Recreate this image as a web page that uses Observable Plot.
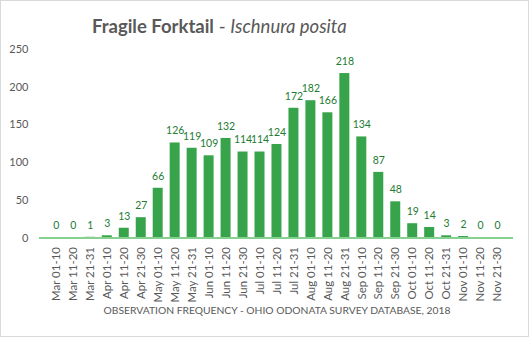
<!DOCTYPE html>
<html>
<head>
<meta charset="utf-8">
<script src="https://cdn.jsdelivr.net/npm/d3@7"></script>
<script src="https://cdn.jsdelivr.net/npm/@observablehq/plot@0.6"></script>
<style>
  html, body { margin: 0; padding: 0; background: #fff; }
  #wrap { position: relative; width: 527px; height: 335px; border: 1px solid #d9d9d9; overflow: hidden; font-family: Lato, "Open Sans", sans-serif; }
  #title { position: absolute; left: 91px; top: 14px; font-size: 18.5px; color: #595959; white-space: nowrap; }
  #title b { font-weight: 700; }
  #title i { font-style: italic; font-weight: 400; }
  #caption { position: absolute; left: 0; width: 552px; top: 303px; text-align: center; font-size: 10.3px; color: #595959; white-space: nowrap; }
  #chart { position: absolute; left: -1px; top: -1px; }
</style>
</head>
<body>
<div id="wrap">
  <div id="chart"></div>
  <div id="title"><b>Fragile Forktail</b> - <i>Ischnura posita</i></div>
  <div id="caption">OBSERVATION FREQUENCY - OHIO ODONATA SURVEY DATABASE, 2018</div>
</div>
<script>
const periods = ["Mar 01-10","Mar 11-20","Mar 21-31","Apr 01-10","Apr 11-20","Apr 21-30","May 01-10","May 11-20","May 21-31","Jun 01-10","Jun 11-20","Jun 21-30","Jul 01-10","Jul 11-20","Jul 21-31","Aug 01-10","Aug 11-20","Aug 21-31","Sep 01-10","Sep 11-20","Sep 21-30","Oct 01-10","Oct 11-20","Oct 21-31","Nov 01-10","Nov 11-20","Nov 21-30"];
const counts = [0,0,1,3,13,27,66,126,119,109,132,114,114,124,172,182,166,218,134,87,48,19,14,3,2,0,0];
const yTicks = [0,50,100,150,200,250];

const data = periods.map((p, i) => ({period: p, count: counts[i]}));

const chart = Plot.plot({
  width: 529,
  height: 337,
  marginLeft: 39,
  marginRight: 15,
  marginTop: 49,
  marginBottom: 99,
  style: {fontFamily: "Lato, 'Open Sans', sans-serif", fontSize: "11px", color: "#595959", background: "transparent"},
  x: {domain: periods, padding: 0.43, label: null},
  y: {domain: [0, 250], label: null},
  marks: [
    Plot.axisY({ticks: yTicks, tickSize: 0, tickPadding: 11, label: null, fontSize: 11}),
    Plot.axisX({tickSize: 0, tickRotate: -90, tickPadding: 9, label: null, fontSize: 11.5}),
    Plot.barY(data, {x: "period", y: "count", fill: "#37a34a"}),
    Plot.ruleY([0], {stroke: "#86d18f", strokeWidth: 2}),
    Plot.text(data, {x: "period", y: "count", text: d => String(d.count), dy: -12, fill: "#1e7b32", fontSize: 10.5})
  ]
});
document.getElementById("chart").appendChild(chart);
</script>
</body>
</html>
